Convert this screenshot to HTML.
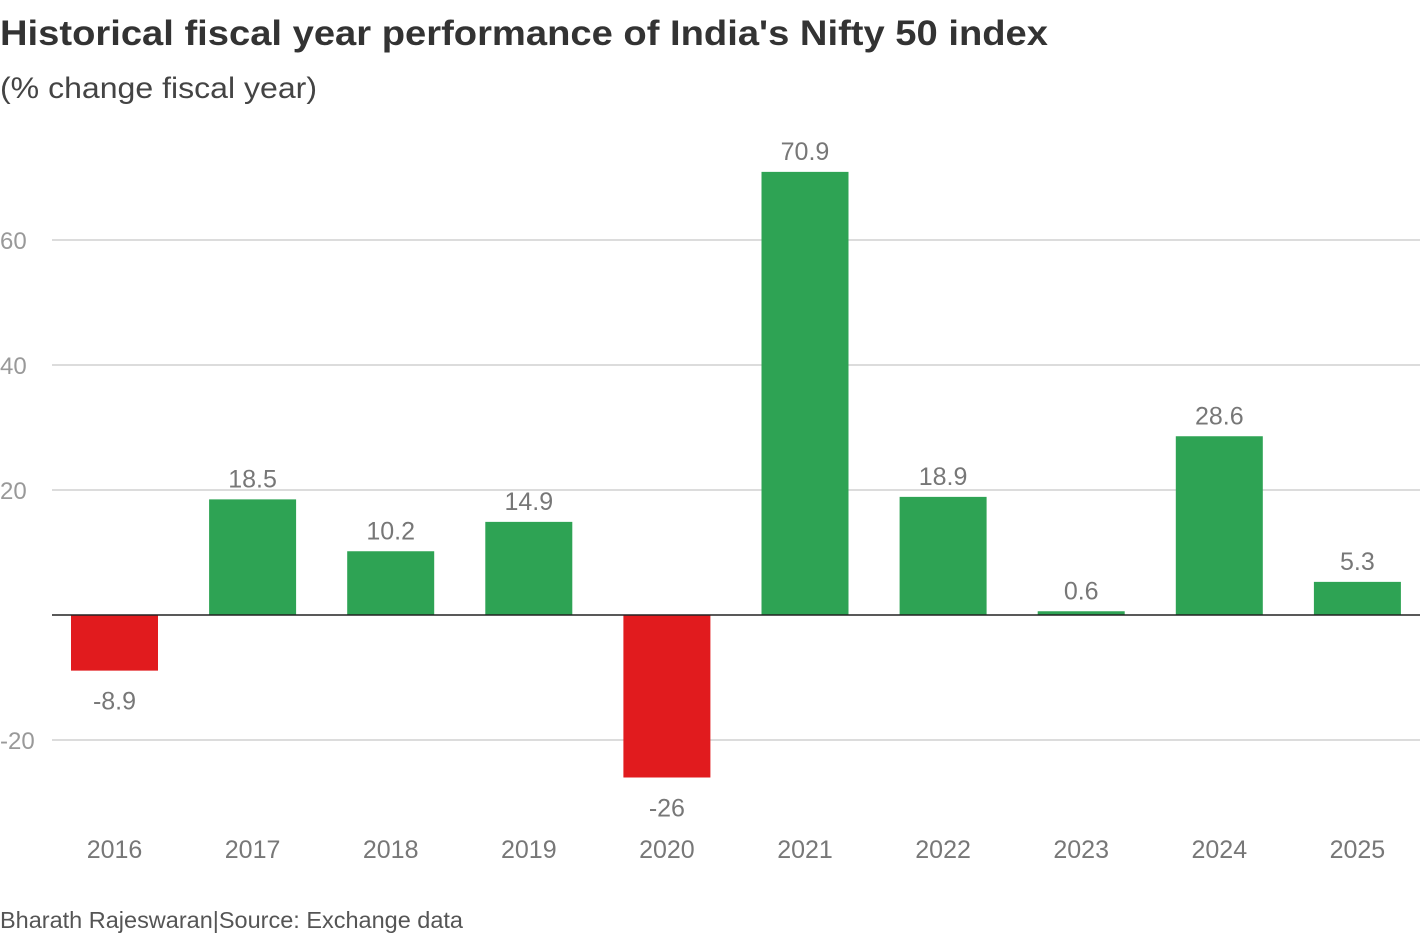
<!DOCTYPE html>
<html><head><meta charset="utf-8"><style>
body{margin:0;background:#fff;width:1420px;height:934px;overflow:hidden;font-family:"Liberation Sans",sans-serif;}
</style></head><body>
<svg width="1420" height="934" xmlns="http://www.w3.org/2000/svg">
<text x="0" y="45" font-size="35" font-weight="bold" fill="#333" textLength="1048" lengthAdjust="spacingAndGlyphs">Historical fiscal year performance of India's Nifty 50 index</text>
<text x="0" y="98" font-size="30" fill="#444" textLength="317" lengthAdjust="spacingAndGlyphs">(% change fiscal year)</text>
<g id="grid"></g><g id="bars"></g><g id="labels"></g>
<text x="0" y="928" font-size="23" fill="#555" textLength="463" lengthAdjust="spacingAndGlyphs">Bharath Rajeswaran|Source: Exchange data</text>
</svg>
<script>
const categories=["2016","2017","2018","2019","2020","2021","2022","2023","2024","2025"];
const values=[-8.9,18.5,10.2,14.9,-26,70.9,18.9,0.6,28.6,5.3];
const valueLabels=["-8.9","18.5","10.2","14.9","-26","70.9","18.9","0.6","28.6","5.3"];
const yTicks=[-20,20,40,60];
const NS="http://www.w3.org/2000/svg";
const y=v=>615-v*6.25;
const x=i=>114.5+i*138.1;
const bw=87;
function mk(tag,attrs,parent,txt){const e=document.createElementNS(NS,tag);for(const k in attrs)e.setAttribute(k,attrs[k]);if(txt!==undefined)e.textContent=txt;document.getElementById(parent).appendChild(e);return e;}
yTicks.forEach(t=>{
 const l=mk('line',{x1:52,x2:1420,y1:y(t),y2:y(t),stroke:'#c8c8c8','stroke-width':1.3},'grid');
 
 
 const tx=mk('text',{x:0,y:y(t)+9,'font-size':24,fill:'#999'},'grid',String(t));
 
 
});
values.forEach((v,i)=>{
 const top=Math.min(y(v),y(0)),h=Math.abs(y(v)-y(0));
 const r=mk('rect',{x:x(i)-bw/2,y:top,width:bw,height:h,fill:v<0?'#e11b1e':'#2ea354'},'bars');
 
 
 const ly=v<0?y(v)+39:y(v)-12;
 const vl=mk('text',{x:x(i),y:ly,'font-size':25,fill:'#777','text-anchor':'middle'},'labels',valueLabels[i]);
 
 
 const xl=mk('text',{x:x(i),y:858,'font-size':25,fill:'#777','text-anchor':'middle'},'labels',categories[i]);
 
 
});
const z=mk('line',{x1:52,x2:1420,y1:y(0),y2:y(0),stroke:'#222','stroke-width':1.5},'labels');


</script>
</body></html>
